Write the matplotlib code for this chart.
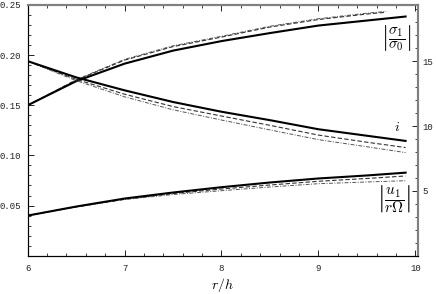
import matplotlib
matplotlib.use("Agg")
import matplotlib.pyplot as plt
from matplotlib.ticker import MultipleLocator, FixedLocator, FormatStrFormatter

plt.rcParams['mathtext.fontset'] = 'cm'

# r/h sample positions
r = [6.0, 6.5, 7.0, 7.5, 8.0, 8.5, 9.0, 9.5, 9.9]
r_sig_d = [6.0, 6.5, 7.0, 7.5, 8.0, 8.5, 9.0, 9.5, 9.7]

# |sigma1/sigma0| (left axis)
sig_solid = [0.150, 0.174, 0.1915, 0.2045, 0.214, 0.222, 0.2295, 0.2345, 0.2385]
sig_dash = [0.150, 0.175, 0.1950, 0.2085, 0.218, 0.228, 0.2355, 0.2410, 0.2428]
sig_dashdot = [0.150, 0.1755, 0.1958, 0.2093, 0.2188, 0.2288, 0.2363, 0.2418, 0.2436]

# inclination i (right axis, degrees)
i_solid = [15.0, 13.75, 12.75, 11.85, 11.10, 10.45, 9.75, 9.25, 8.85]
i_dash = [15.0, 13.60, 12.45, 11.50, 10.77, 10.05, 9.30, 8.75, 8.34]
i_dashdot = [15.0, 13.50, 12.25, 11.25, 10.46, 9.70, 8.95, 8.40, 7.95]

# |u1/(r Omega)| (left axis)
u_solid = [0.040, 0.049, 0.057, 0.063, 0.0683, 0.073, 0.0770, 0.0800, 0.0828]
u_dash = [0.040, 0.0488, 0.0565, 0.0620, 0.0665, 0.0705, 0.0742, 0.0770, 0.0795]
u_dashdot = [0.040, 0.0485, 0.0560, 0.0610, 0.0648, 0.0685, 0.0718, 0.0735, 0.0748]

x_ticks = [6, 7, 8, 9, 10]
left_ticks = [0.05, 0.10, 0.15, 0.20, 0.25]
right_ticks = [5, 10, 15]

fig = plt.figure(figsize=(4.36, 2.94), dpi=100)
ax = fig.add_axes([0.0635, 0.1303, 0.8945, 0.8527])
ax2 = ax.twinx()

solid_kw = dict(color='black', lw=1.5, ls='-')
dash_kw = dict(color='#333333', lw=0.8, ls=(0, (4, 2)))
dd_kw = dict(color='#555555', lw=0.7, ls=(0, (4, 1.5, 1, 1.5)))

ax.plot(r_sig_d, sig_dashdot, **dd_kw)
ax.plot(r_sig_d, sig_dash, **dash_kw)
ax.plot(r, sig_solid, **solid_kw)
ax.plot(r, u_dashdot, **dd_kw)
ax.plot(r, u_dash, **dash_kw)
ax.plot(r, u_solid, **solid_kw)
ax2.plot(r, i_dashdot, **dd_kw)
ax2.plot(r, i_dash, **dash_kw)
ax2.plot(r, i_solid, **solid_kw)

ax.set_xlim(6, 10.025)
ax.set_ylim(0, 0.25)
ax2.set_ylim(0, 19.33)

ax.xaxis.set_major_locator(FixedLocator(x_ticks))
ax.xaxis.set_minor_locator(MultipleLocator(0.2))
ax.yaxis.set_major_locator(FixedLocator(left_ticks))
ax.yaxis.set_minor_locator(MultipleLocator(0.01))
ax.yaxis.set_major_formatter(FormatStrFormatter('%.2f'))
ax2.yaxis.set_major_locator(FixedLocator(right_ticks))
ax2.yaxis.set_minor_locator(MultipleLocator(1))

ax.tick_params(axis='x', which='both', direction='in', top=True, bottom=True, pad=6, colors='#222222')
ax.tick_params(axis='y', which='both', direction='in', left=True, right=False, pad=5, colors='#222222')
ax.tick_params(which='major', length=4, width=0.7)
ax.tick_params(which='minor', length=2, width=0.6)
ax2.tick_params(axis='y', which='both', direction='in', right=True, left=False, pad=3.5, colors='#222222')
ax2.tick_params(which='major', length=4, width=0.7)
ax2.tick_params(which='minor', length=2, width=0.6)
for lab in ax.get_xticklabels() + ax.get_yticklabels() + ax2.get_yticklabels():
    lab.set_fontfamily('Liberation Mono')
    lab.set_fontsize(6.5)

for a in (ax, ax2):
    a.spines['left'].set_color('black')
    a.spines['left'].set_linewidth(0.8)
    a.spines['bottom'].set_color('black')
    a.spines['bottom'].set_linewidth(0.8)
    a.spines['top'].set_color('#808080')
    a.spines['top'].set_linewidth(1.5)
    a.spines['right'].set_color('#808080')
    a.spines['right'].set_linewidth(1.5)

ax.set_xlabel(r'$r/h$', fontsize=10, labelpad=2)

ax.text(9.80, 0.217, r'$\left|\dfrac{\sigma_1}{\sigma_0}\right|$', fontsize=11,
        ha='center', va='center')
ax.text(9.81, 0.128, r'$i$', fontsize=10, ha='center', va='center')
ax.text(9.78, 0.0565, r'$\left|\dfrac{u_1}{r\Omega}\right|$', fontsize=11,
        ha='center', va='center')

fig.savefig('out.png', dpi=100)
